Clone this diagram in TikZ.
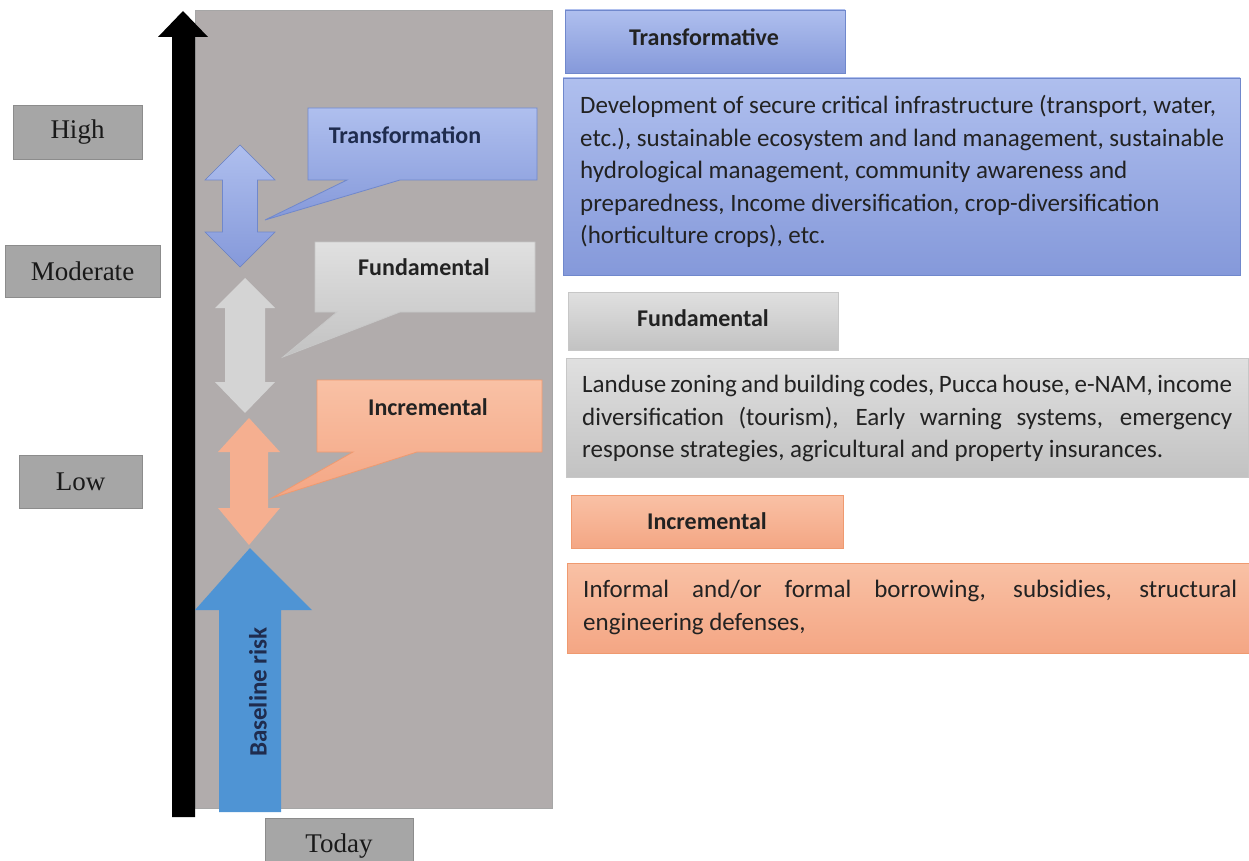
\documentclass[tikz,border=0pt]{standalone}
\usepackage{fontspec}
\setmainfont{Carlito}
\newfontfamily\tnr{Liberation Serif}
\definecolor{panelgray}{HTML}{B1ACAC}
\definecolor{lvlgray}{HTML}{A6A6A6}
\definecolor{blueA}{HTML}{AFBFEE}
\definecolor{blueB}{HTML}{8599DA}
\definecolor{blueEdge}{HTML}{7088CC}
\definecolor{grayA}{HTML}{E0E0E0}
\definecolor{grayB}{HTML}{C2C2C2}
\definecolor{oranA}{HTML}{F9C1A5}
\definecolor{oranB}{HTML}{F4A684}
\definecolor{oranEdge}{HTML}{EF9A70}
\definecolor{baseblue}{HTML}{4F94D4}
\definecolor{navy}{HTML}{1F2C4E}
\definecolor{txt}{HTML}{222222}
\newcommand\dblarr[8]{%
  \fill[#8] (#1,#2) -- (#1+#6,#3) -- (#1+#7,#3) -- (#1+#7,#4) -- (#1+#6,#4) -- (#1,#5)
   -- (#1-#6,#4) -- (#1-#7,#4) -- (#1-#7,#3) -- (#1-#6,#3) -- cycle;}
\begin{document}
\begin{tikzpicture}[x=1pt,y=-1pt,
  lvl/.style={draw=black!45, fill=lvlgray, line width=0.6pt, inner sep=0pt,
    font=\tnr\fontsize{27}{27}\selectfont, text=black!90},
  hdr/.style={font=\bfseries\fontsize{24}{24}\selectfont, text=txt, inner sep=0pt},
  body/.style={font=\fontsize{25}{32.6}\selectfont, text=txt, inner sep=0pt, anchor=north west, align=left},
  bluebox/.style={top color=blueA, bottom color=blueB, draw=blueEdge, line width=0.8pt},
  graybox/.style={top color=grayA, bottom color=grayB, draw=black!22, line width=0.8pt},
  oranbox/.style={top color=oranA, bottom color=oranB, draw=oranEdge, line width=0.8pt}]
\useasboundingbox[fill=white] (0,0) rectangle (1249,861);

% main panel
\fill[panelgray] (195,10) rectangle (552,808);
\draw[black!35, line width=0.8pt] (195,10) rectangle (552,808);

% black axis arrow
\fill[black] (172,817) -- (195,817) -- (195,37) -- (208,37) -- (183,11) -- (158,37) -- (172,37) -- cycle;

% level labels
\node[lvl, minimum width=129, minimum height=54] (high) at (77.5,132) {High};
\node[lvl, minimum width=155, minimum height=52] (moderate) at (82.5,271) {Moderate};
\node[lvl, minimum width=123, minimum height=53] (low) at (80.5,481.5) {Low};
\fill[lvlgray] (265,818) rectangle (413,861);
\draw[black!45, line width=0.6pt] (265,861) -- (265,818) -- (413,818) -- (413,861);
\node[font=\tnr\fontsize{27}{27}\selectfont, text=black!90] (today) at (339,846) {Today};

% baseline risk arrow
\fill[baseblue] (219,812) -- (281,812) -- (281,610) -- (312,610) -- (250,548) -- (195,610) -- (219,610) -- cycle;
\node[rotate=90, font=\bfseries\fontsize{25}{25}\selectfont, text=navy] (baseline) at (258,692) {Baseline risk};

% double arrows
\dblarr{240}{145}{180}{232}{267}{35}{17.5}{top color=blueA, bottom color=blueB}
\draw[blueEdge, line width=0.6pt] (240,145) -- (275,180) -- (257.5,180) -- (257.5,232) -- (275,232) -- (240,267)
   -- (205,232) -- (222.5,232) -- (222.5,180) -- (205,180) -- cycle;
\dblarr{245}{278}{308}{382}{413}{30}{20}{fill=black!17}
\dblarr{249}{418}{452}{508}{545}{31}{19}{fill=oranB!90!white}

% callouts
\draw[bluebox] (308,108) -- (537,108) -- (537,180) -- (400,180) -- (265,220) -- (347,180) -- (308,180) -- cycle;
\node[hdr, text=navy] (transformation) at (405,135) {Transformation};
\draw[graybox] (315,242) -- (535,242) -- (535,312) -- (400,312) -- (283,357) -- (337,312) -- (315,312) -- cycle;
\node[hdr] (fundamental) at (424,267) {Fundamental};
\draw[oranbox] (317,380) -- (542,380) -- (542,452) -- (417,452) -- (272,498) -- (353,452) -- (317,452) -- cycle;
\node[hdr] (incremental) at (428,407) {Incremental};

% right column
\draw[bluebox] (565,10) rectangle (845,73);
\node[hdr] (hT) at (704,37) {Transformative};
\draw[bluebox] (563,78) rectangle (1240,275);
\node[body] (bT) at (580,95) {Development of secure critical infrastructure (transport, water,\\
etc.), sustainable ecosystem and land management, sustainable\\
hydrological management, community awareness and\\
preparedness, Income diversification, crop-diversification\\
(horticulture crops), etc.};

\draw[graybox] (568,292) rectangle (838,350);
\node[hdr] (hF) at (703,318) {Fundamental};
\draw[graybox] (566,358) rectangle (1248,477);
\node[body] (bF) at (582,375) {\makebox[650pt][s]{Landuse zoning and building codes, Pucca house, e-NAM, income}\\
\makebox[650pt][s]{diversification (tourism), Early warning systems, emergency}\\
response strategies, agricultural and property insurances.};

\draw[oranbox] (571,495) rectangle (843,548);
\node[hdr] (hI) at (707,521) {Incremental};
\draw[oranbox] (567,563) rectangle (1249,653);
\node[body] (bI) at (583,580) {\makebox[654pt][s]{Informal and/or formal borrowing, subsidies, structural}\\
engineering defenses,};
\end{tikzpicture}
\end{document}
